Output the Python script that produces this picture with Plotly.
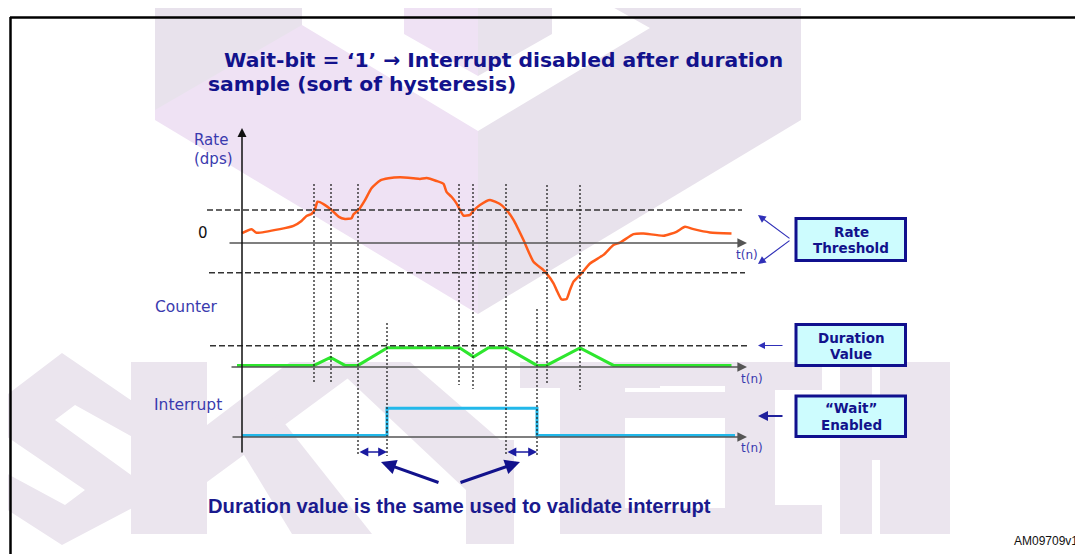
import plotly.graph_objects as go

W, H = 1083, 554          # page size
OX, OY = 8, 8             # default page margin of the html body
FW, FH = W - OX, H - OY   # figure size

# ---------------- data ----------------
# rate signal (dps) vs sample index t(n)
rate_t = [0, 1.9, 2.9, 7.6, 10.3, 11.9, 12.9, 13.9, 14.6, 15.1, 16.3, 17.9, 19.3, 20.6, 21.9, 22.3,
          23.3, 24.6, 25.9, 27.6, 29.3, 31.6, 34.3, 35.6, 36.9, 38.9, 40.3, 40.9, 41.9, 42.9, 43.6,
          44.3, 45.6, 46.3, 47.6, 49.6, 51.6, 52.9, 54.3, 56.3, 58.3, 60.3, 60.9, 62.3, 62.9, 63.9,
          64.9, 65.6, 66.3, 67.9, 69.6, 72.3, 74.3, 75.6, 78.3, 80.3, 84.3, 86.9, 88.6, 90.3, 93.6, 97.9]
rate_v = [3.0, 4.2, 3.1, 4.2, 5.2, 6.7, 8.2, 8.8, 10.2, 12.5, 11.8, 10.0, 8.0, 7.3, 7.5, 8.7,
          10.0, 13.0, 16.6, 18.9, 19.6, 19.9, 19.6, 19.4, 19.7, 18.8, 17.9, 15.5, 14.0, 12.0, 10.0,
          8.3, 8.5, 9.8, 11.5, 13.0, 11.8, 10.0, 7.0, 0.9, -5.7, -8.2, -9.2, -12.2, -14.2, -17.1,
          -17.0, -14.2, -11.7, -9.2, -6.2, -3.6, -0.6, 0.1, 2.7, 2.9, 2.2, 3.4, 4.9, 4.2, 3.2, 2.9]
RATE_TH_HIGH = 10
RATE_TH_LOW = -9

# threshold crossing instants and interrupt transitions
event_t_rate = [14.4, 17.8, 23.2, 43.4, 46.2, 52.8, 61.0, 67.6]
event_t_int = [29.0, 59.0]

# duration counter
counter_t = [-1.0, 14.4, 17.7, 20.6, 23.2, 29.1, 43.5, 46.3, 49.3, 52.9, 59.0, 60.9, 67.6, 74.3, 97.9]
counter_v = [0.3, 0.3, 1.8, 0.3, 0.3, 3.6, 3.6, 1.9, 3.6, 3.6, 0.3, 0.3, 3.6, 0.3, 0.3]
DURATION = 4

# interrupt line
int_t = [0, 29.0, 59.0, 98.6]
int_v = [0.05, 1.0, 0.05, 0.05]

# ---------------- layout helpers (page pixel -> paper) ----------------
def px(x):
    return (x - OX) / FW


def py(y):
    return 1 - (y - OY) / FH


X0, KX = 242, 5.0   # t = 0 at page x 242, 5 px per sample


def t_of(xp):
    return (xp - X0) / KX


def yrange(zero_px, k):
    return [(zero_px - H) / k, (zero_px - OY) / k]


NAVY = "#12128c"
LBL = "#3a3aae"
FONT = "DejaVu Sans"

fig = go.Figure()
fig.add_trace(go.Scatter(x=rate_t, y=rate_v, mode="lines", line=dict(color="#ff5c1a", width=2.5, shape="spline", smoothing=0.5),
                         xaxis="x", yaxis="y", hoverinfo="skip"))
fig.add_trace(go.Scatter(x=counter_t, y=counter_v, mode="lines", line=dict(color="#2ee62e", width=3),
                         xaxis="x", yaxis="y2", hoverinfo="skip"))
fig.add_trace(go.Scatter(x=int_t, y=int_v, mode="lines", line=dict(color="#22b8ea", width=3, shape="hv"),
                         xaxis="x", yaxis="y3", hoverinfo="skip"))

shapes = []
annotations = []


def poly(pts, color):
    d = "M " + " L ".join(f"{px(x):.5f},{py(y):.5f}" for x, y in pts) + " Z"
    shapes.append(dict(type="path", path=d, xref="paper", yref="paper", fillcolor=color,
                       line=dict(width=0), layer="below"))


# ---- watermark (background) ----
PINK = "#efe2f4"
GRAYL = "#e8e2ec"
poly([(155, 0), (478, 0), (478, 314), (155, 120)], PINK)
poly([(478, 0), (801, 0), (801, 120), (478, 314)], GRAYL)
poly([(155, 0), (302, 0), (302, 25), (155, 110)], GRAYL)
poly([(302, 0), (404, 0), (404, 34), (478, 76), (552, 34), (552, 0), (600, 0), (650, 28), (478, 131), (302, 25)], "#ffffff")
WM = "#ebe5ee"
# S
poly([(0, 400), (62, 353), (138, 405), (138, 440), (75, 405), (55, 420), (138, 480), (138, 505),
      (62, 545), (0, 505), (0, 470), (65, 505), (85, 490), (0, 432)], WM)
# K
poly([(131, 362), (207, 362), (207, 534), (131, 534)], WM)
poly([(207, 425), (290, 362), (370, 362), (207, 482)], WM)
poly([(238, 445), (278, 415), (372, 534), (292, 534)], WM)
# Y
poly([(330, 362), (410, 362), (514, 452), (514, 475), (466, 490)], WM)
poly([(466, 440), (514, 440), (514, 544), (466, 544)], WM)
# T / E
poly([(520, 362), (660, 362), (660, 388), (520, 388)], WM)
poly([(560, 362), (625, 362), (625, 534), (560, 534)], WM)
poly([(625, 362), (767, 362), (767, 386), (625, 386)], WM)
poly([(625, 392), (767, 392), (767, 418), (625, 418)], WM)
poly([(625, 508), (767, 508), (767, 534), (625, 534)], WM)
# C
poly([(745, 362), (822, 362), (822, 390), (775, 390), (775, 505), (822, 505), (822, 534), (725, 534), (725, 385)], WM)
# H
poly([(840, 362), (872, 362), (872, 534), (840, 534)], WM)
poly([(872, 430), (880, 430), (880, 460), (872, 460)], WM)
poly([(880, 362), (950, 362), (950, 534), (880, 534)], WM)

# frame
shapes.append(dict(type="line", xref="paper", yref="paper", x0=px(10), x1=px(1083), y0=py(17.5), y1=py(17.5),
                   line=dict(color="black", width=2.5)))
shapes.append(dict(type="line", xref="paper", yref="paper", x0=px(10.5), x1=px(10.5), y0=py(17), y1=py(554),
                   line=dict(color="black", width=2.5)))

# threshold / duration dashed lines
DASH = "6px,3px"
shapes.append(dict(type="line", xref="paper", yref="y", x0=px(207), x1=px(742), y0=RATE_TH_HIGH, y1=RATE_TH_HIGH,
                   line=dict(color="#333333", width=1.5, dash=DASH)))
shapes.append(dict(type="line", xref="paper", yref="y", x0=px(209), x1=px(745), y0=RATE_TH_LOW, y1=RATE_TH_LOW,
                   line=dict(color="#333333", width=1.5, dash=DASH)))
shapes.append(dict(type="line", xref="paper", yref="y2", x0=px(210), x1=px(747), y0=DURATION, y1=DURATION,
                   line=dict(color="#333333", width=1.5, dash=DASH)))

# dotted event lines
rate_ext = [(184, 383), (184, 383), (184, 456), (184, 385), (184, 389), (184, 456), (185, 385), (185, 390)]
int_ext = [(323, 456), (309, 456)]
for t, (a, b) in list(zip(event_t_rate, rate_ext)) + list(zip(event_t_int, int_ext)):
    shapes.append(dict(type="line", xref="x", yref="paper", x0=t, x1=t, y0=py(a), y1=py(b),
                       line=dict(color="#222222", width=1.3, dash="2px,2px")))

# boxes
for (x0, y0, x1, y1) in [(796, 218.5, 905.5, 260.5), (796, 324.5, 905.5, 365.5), (796, 396, 905.5, 436.5)]:
    shapes.append(dict(type="rect", xref="paper", yref="paper", x0=px(x0), x1=px(x1), y0=py(y0), y1=py(y1),
                       fillcolor="#cdfcfe", line=dict(color="#10108e", width=3)))


def text(x, y, s, size, color, bold=False, family=FONT, anchor="left"):
    annotations.append(dict(x=px(x), y=py(y), xref="paper", yref="paper", text=(f"<b>{s}</b>" if bold else s),
                            showarrow=False, xanchor=anchor, yanchor="middle",
                            font=dict(size=size, color=color, family=family)))


def arrow(x1, y1, x0, y0, color, width, head=2, size=1.0, side="end", yref="paper", yval=None):
    annotations.append(dict(x=px(x1), y=(py(y1) if yval is None else yval), xref="paper", yref=yref,
                            ax=x0 - x1, ay=y0 - y1, axref="pixel", ayref="pixel", text="", showarrow=True,
                            arrowhead=head, arrowsize=size, arrowwidth=width, arrowcolor=color, arrowside=side))


# axes
arrow(747, 0, 228, 0, "#555555", 1.6, head=2, size=1.2, yref="y", yval=0)
arrow(747, 0, 230, 0, "#555555", 1.6, head=2, size=1.2, yref="y2", yval=0)
arrow(747, 0, 231, 0, "#555555", 1.6, head=2, size=1.2, yref="y3", yval=0)
arrow(242, 128, 242, 454, "#111111", 1.5, head=2, size=1.2)

# duration double arrows
for ta, tb in [(event_t_rate[2], event_t_int[0]), (event_t_rate[5], event_t_int[1])]:
    annotations.append(dict(x=tb, y=py(452), xref="x", yref="paper", ax=ta, ay=0, axref="x", ayref="pixel",
                            text="", showarrow=True, arrowhead=2, arrowsize=1.1, arrowwidth=1.6,
                            arrowcolor="#1a1aa0", arrowside="end+start"))

# big pointer arrows
arrow(381, 462, 440, 483, "#12128c", 3, head=2, size=1.0)
arrow(520, 462, 459, 483, "#12128c", 3, head=2, size=1.0)

# box pointer arrows
arrow(758, 215, 791, 239.5, "#3030b8", 1.2, head=2, size=1.3)
arrow(758, 264, 791, 239.5, "#3030b8", 1.2, head=2, size=1.3)
arrow(758, 345.5, 784, 345.5, "#3030b8", 1.0, head=2, size=1.4)
arrow(758, 416, 784, 416, "#20209c", 2.0, head=2, size=1.0)

# texts
text(222, 60, "Wait-bit = \u20181\u2019 \u2192 Interrupt disabled after duration", 20.3, NAVY, bold=True)
text(206, 84, "sample (sort of hysteresis)", 20.3, NAVY, bold=True)
text(192, 140, "Rate", 15, LBL)
text(192, 159, "(dps)", 15, LBL)
text(196, 232.5, "0", 15, "#111111")
text(153, 307, "Counter", 15.5, LBL)
text(152, 405, "Interrupt", 15.5, LBL)
text(734, 255, "t(n)", 12, LBL)
text(739, 379, "t(n)", 12, LBL)
text(739, 447.5, "t(n)", 12, LBL)
text(851, 232.3, "Rate", 13.5, NAVY, bold=True, anchor="center")
text(851, 248.3, "Threshold", 13.5, NAVY, bold=True, anchor="center")
text(851, 337.7, "Duration", 13.5, NAVY, bold=True, anchor="center")
text(851, 353.5, "Value", 13.5, NAVY, bold=True, anchor="center")
text(851, 408.5, "\u201cWait\u201d", 13.5, NAVY, bold=True, anchor="center")
text(851, 425, "Enabled", 13.5, NAVY, bold=True, anchor="center")
text(206, 506, "Duration value is the same used to validate interrupt", 20.2, "#1a1a8e", bold=True,
     family="Liberation Sans")
text(1080, 541, "AM09709v1", 12, "#111111", family="Liberation Sans", anchor="right")

fig.update_layout(
    width=FW, height=FH, margin=dict(l=0, r=0, t=0, b=0),
    paper_bgcolor="white", plot_bgcolor="rgba(0,0,0,0)", showlegend=False,
    xaxis=dict(range=[t_of(OX), t_of(W)], visible=False, domain=[0, 1], fixedrange=True),
    yaxis=dict(range=yrange(243, 3.3), visible=False, domain=[0, 1], fixedrange=True),
    yaxis2=dict(range=yrange(367, 5.325), visible=False, overlaying="y", fixedrange=True),
    yaxis3=dict(range=yrange(437, 28.7), visible=False, overlaying="y", fixedrange=True),
    shapes=shapes, annotations=annotations,
)

fig.write_html("out.html")
